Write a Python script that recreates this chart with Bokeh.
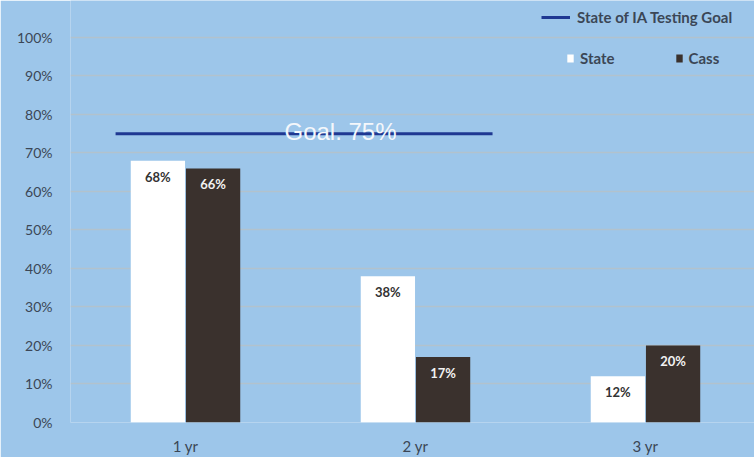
from bokeh.plotting import figure
from bokeh.models import ColumnDataSource, FixedTicker, Legend, LegendItem, Label, NumeralTickFormatter
from bokeh.core.properties import value
from bokeh.embed import file_html
from bokeh.resources import INLINE

categories = ["1 yr", "2 yr", "3 yr"]
state_vals = [0.68, 0.38, 0.12]
cass_vals = [0.66, 0.17, 0.20]
goal_val = 0.75
y_ticks = [0, 0.1, 0.2, 0.3, 0.4, 0.5, 0.6, 0.7, 0.8, 0.9, 1.0]

BG = "#9dc6ea"
DARK = "#3a312d"
FONT = "Lato"
TXT = "#3b4656"

xpos = list(range(len(categories)))
off = 0.12
w = 0.236

p = figure(width=754, height=457, output_backend="svg", toolbar_location=None,
           x_range=(-0.5, 2.474), y_range=(0, 1.0961),
           min_border_left=70, min_border_right=0, min_border_top=0, min_border_bottom=35)
p.background_fill_color = BG
p.border_fill_color = BG
p.outline_line_color = None

src = ColumnDataSource(dict(
    xs=[x - off for x in xpos], xc=[x + off for x in xpos],
    state=state_vals, cass=cass_vals,
    sl=[f"{round(v*100)}%" for v in state_vals],
    cl=[f"{round(v*100)}%" for v in cass_vals],
))

r_state = p.vbar(x="xs", top="state", width=w, source=src, fill_color="white", line_color=None)
r_cass = p.vbar(x="xc", top="cass", width=w, source=src, fill_color=DARK, line_color=None)

p.text(x="xs", y="state", text="sl", source=src, text_align="center", text_baseline="middle",
       y_offset=16, text_font=value(FONT), text_font_style="bold", text_font_size="13px",
       text_color="#333333")
p.text(x="xc", y="cass", text="cl", source=src, text_align="center", text_baseline="middle",
       y_offset=16, text_font=value(FONT), text_font_style="bold", text_font_size="13px",
       text_color="#f2f2f2")

r_goal = p.line(x=[-0.304, 1.335], y=[goal_val, goal_val], line_color="#1f3892", line_width=3)
p.add_layout(Label(x=0.674, y=goal_val, text=f"Goal. {round(goal_val*100)}%", text_align="center",
                   text_baseline="alphabetic", y_offset=2, text_font="Liberation Sans",
                   text_font_size="24px", text_color="#f4f7fb"))

# axes
p.xaxis.ticker = FixedTicker(ticks=xpos)
p.xaxis.major_label_overrides = {i: c for i, c in zip(xpos, categories)}
p.yaxis.ticker = FixedTicker(ticks=y_ticks)
p.yaxis.formatter = NumeralTickFormatter(format="0%")
for ax in (p.xaxis[0], p.yaxis[0]):
    ax.axis_line_color = None
    ax.major_tick_line_color = None
    ax.minor_tick_line_color = None
    ax.major_tick_out = 0
    ax.major_tick_in = 0
    ax.minor_tick_out = 0
    ax.minor_tick_in = 0
    ax.major_label_text_font = FONT
    ax.major_label_text_font_size = "15px"
    ax.major_label_text_color = TXT
p.yaxis.major_label_text_font_size = "14px"
p.yaxis.major_label_standoff = 18
p.xaxis.major_label_standoff = 14
p.xgrid.grid_line_color = None
p.ygrid.grid_line_color = "#b2c2cd"
p.ygrid.grid_line_width = 1.5

leg1 = Legend(items=[LegendItem(label="State of IA Testing Goal", renderers=[r_goal])],
              location=(471, 396), background_fill_alpha=0, border_line_color=None,
              label_text_font=FONT, label_text_font_style="bold", label_text_font_size="15px",
              label_text_color=TXT, glyph_width=29, glyph_height=18, padding=0, margin=0,
              label_standoff=7)
leg2 = Legend(items=[LegendItem(label="State", renderers=[r_state]),
                     LegendItem(label="Cass", renderers=[r_cass])],
              location=(496, 355), orientation="horizontal", background_fill_alpha=0,
              border_line_color=None, label_text_font=FONT, label_text_font_style="bold",
              label_text_font_size="15px", label_text_color=TXT,
              glyph_width=8, glyph_height=10, padding=0, margin=0, spacing=60, label_standoff=6)
p.add_layout(leg1)
p.add_layout(leg2)

open("out.html", "w").write(file_html(p, INLINE))
